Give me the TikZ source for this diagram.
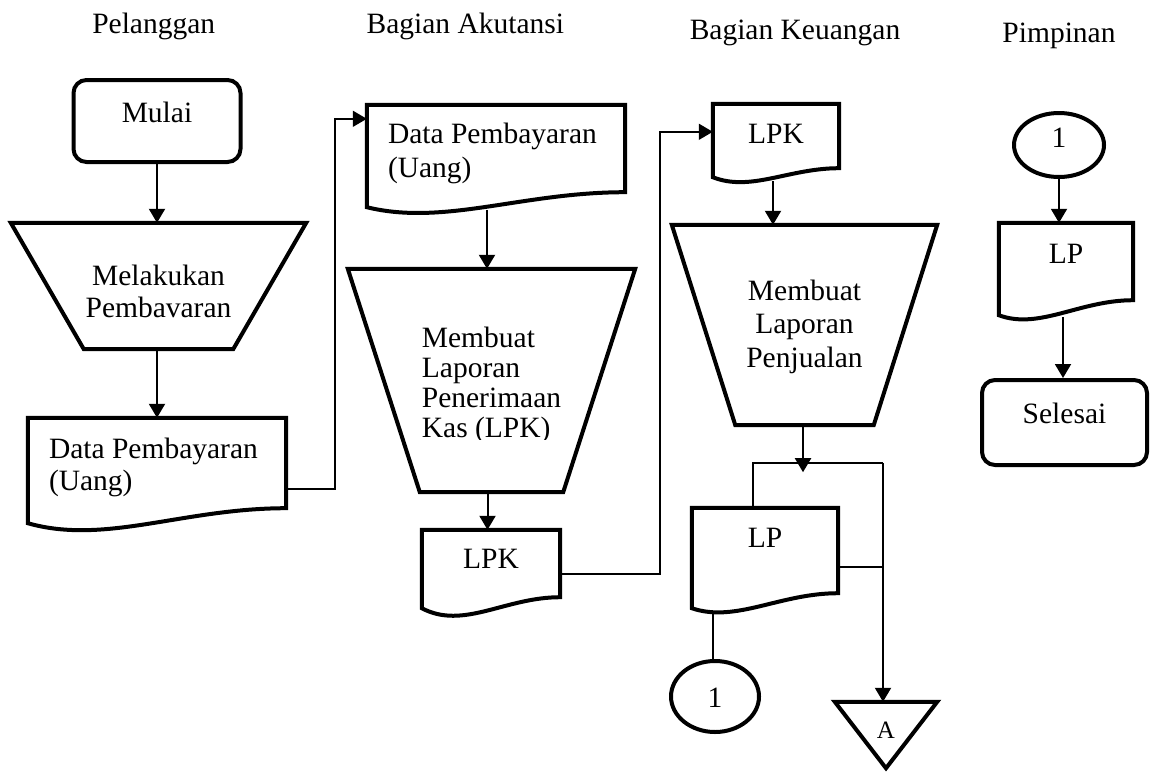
\documentclass[tikz,border=0pt]{standalone}
\usepackage{fontspec}
\setmainfont{Liberation Serif}
\usetikzlibrary{arrows.meta,calc,shapes.geometric}

% outline of a document symbol: straight top and sides, wavy bottom edge
% #1 node, #2 extra drop of the left corner, #3 depth of the wave
\newcommand{\docoutline}[3]{%
  \draw[shapeline] (#1.south east) -- (#1.north east) -- (#1.north west)
    -- ($(#1.south west)+(0,#2)$)
    .. controls ($(#1.south west)!0.3!(#1.south east)+(0,#2+#3)$)
       and ($(#1.south west)!0.6!(#1.south east)$) .. (#1.south east) -- cycle;}
% outline of a manual-operation symbol (trapezium, wide side on top)
\newcommand{\trapoutline}[2]{%
  \draw[shapeline] (#1.north west) -- (#1.north east)
    -- ($(#1.south east)+(-#2,0)$) -- ($(#1.south west)+(#2,0)$) -- cycle;}
% several lines of text whose baseline is that of the first line
\newcommand{\stacked}[2]{\begin{tabular}[t]{@{}#1@{}}#2\end{tabular}}

\tikzset{
  txt/.style={font=\fontsize{29.5}{32}\selectfont},
  shapeline/.style={line width=4pt, line join=miter},
  area/.style={txt, inner sep=0pt, text height=24pt, minimum width=#1},
  terminal/.style={area=#1, draw, line width=4pt, rounded corners=13pt},
  connector/.style={area=#1, ellipse, draw, line width=4pt},
  heading/.style={txt, anchor=base, inner sep=0pt},
  tip/.style={-{Triangle[length=14pt,width=16pt]}},
  arr/.style={line width=2pt, tip},
  elbow/.style={line width=1.6pt, tip},
  link/.style={line width=1.6pt},
}

\begin{document}
\begin{tikzpicture}[x=1pt,y=-1pt]
\useasboundingbox (0,0) rectangle (1150,771);

% lane headings
\node[heading] (hPel) at (153.7,33.3) {Pelanggan};
\node[heading] (hAku) at (465.3,33.3) {Bagian Akutansi};
\node[heading] (hKeu) at (795,39.3) {Bagian Keuangan};
\node[heading] (hPim) at (1059,42.7) {Pimpinan};

% ---- Pelanggan
\node[terminal=167pt, minimum height=82pt, text depth=22pt] (mulai) at (157,121) {Mulai};
\node[area=295pt, minimum height=126pt, text depth=26pt] (trap1) at (158.5,286)
  {\stacked{c}{Melakukan\\Pembavaran}};
\node[area=258pt, minimum height=90pt, text depth=34pt] (doc1) at (157,463)
  {\stacked{l}{\makebox[216pt][l]{Data Pembayaran}\\(Uang)}};

% ---- Bagian Akutansi
\node[area=258pt, minimum height=87pt, text depth=35pt,
      font=\fontsize{29.5}{34}\selectfont] (doc2) at (496,148.5)
  {\stacked{l}{\makebox[216pt][l]{Data Pembayaran}\\(Uang)}};
\begin{scope}
  \clip (300,250) rectangle (700,439);
  \node[area=287pt, minimum height=223pt, text depth=91pt,
        font=\fontsize{29.5}{30}\selectfont] (trap2) at (491.5,380.5)
    {\stacked{l}{Membuat\\Laporan\\Penerimaan\\Kas (LPK)}};
\end{scope}
\node[area=138pt, minimum height=67pt, text depth=15pt] (lpk1) at (491,563.5) {LPK};

% ---- Bagian Keuangan
\node[area=126pt, minimum height=64pt, text depth=10pt] (lpk2) at (776,136) {LPK};
\node[area=265pt, minimum height=200pt, text depth=74pt,
      font=\fontsize{29.5}{33.5}\selectfont] (trap3) at (804.5,325)
  {\stacked{c}{Membuat\\Laporan\\Penjualan}};
\node[area=146pt, minimum height=85pt, text depth=31pt] (lp1) at (765,550.5) {LP};
\node[connector=88pt, minimum height=71pt, text depth=3pt] (c1) at (715,696.5) {1};
\node[area=102pt, minimum height=66pt, text height=18pt, text depth=12pt,
      font=\fontsize{25}{28}\selectfont] (triA) at (886,735) {A};

% ---- Pimpinan
\node[connector=90pt, minimum height=64pt, text depth=20pt] (c2) at (1059,145) {1};
\node[area=134pt, minimum height=77pt, text depth=21pt] (lp2) at (1066,261.5) {LP};
\node[terminal=165pt, minimum height=85pt, text depth=23pt] (selesai) at (1064.5,422.5) {Selesai};

% symbol outlines
\trapoutline{trap1}{73}
\trapoutline{trap2}{72}
\trapoutline{trap3}{63.5}
\docoutline{doc1}{15}{22}
\docoutline{doc2}{15}{19}
\docoutline{lpk1}{11}{22}
\docoutline{lpk2}{9}{15}
\docoutline{lp1}{15}{15}
\docoutline{lp2}{15}{15}
\draw[shapeline] (triA.north west) -- (triA.north east) -- (triA.south) -- cycle;

% flow lines
\draw[arr] (mulai.south) -- (mulai.south |- trap1.north);
\draw[arr] (doc1.north |- trap1.south) -- (doc1.north);
\draw[elbow] ($(doc1.north east)+(0,71)$) -- ++(49,0) |- ($(doc2.north west)+(0,14)$);

\coordinate (w2) at ($(doc2.south)+(-9,18)$);
\draw[arr] (w2) -- (w2 |- trap2.north);
\coordinate (t2) at ($(trap2.south)+(-4,0)$);
\draw[arr] (t2) -- (t2 |- lpk1.north);
\draw[elbow] ($(lpk1.north east)+(0,44)$) -- ++(100,0) |- ($(lpk2.north west)+(0,28)$);

\coordinate (w3) at ($(lpk2.south)+(-3,13)$);
\draw[arr] (w3) -- (w3 |- trap3.north);
\coordinate (jm) at ($(trap3.south)+(-1.5,47)$);
\coordinate (jl) at ($(lp1.north)+(-12,-45)$);
\coordinate (jr) at ($(triA.north)+(-3,0)$);
\draw[arr] (jm |- trap3.south) -- (jm);
\draw[link, line width=2pt] (jl |- lp1.north) -- (jl) -- (jl -| jr);
\draw[arr] (jl -| jr) -- (jr);
\coordinate (q) at ($(lp1.north east)+(0,59)$);
\draw[link] (q) -- (q -| jr);
\coordinate (w4) at ($(lp1.south west)+(21,20)$);
\draw[link] (w4) -- (w4 |- c1.north);

\draw[arr] (c2.south) -- (c2.south |- lp2.north);
\coordinate (w6) at ($(lp2.south)+(-3,17)$);
\draw[arr] (w6) -- (w6 |- selesai.north);
\end{tikzpicture}
\end{document}
